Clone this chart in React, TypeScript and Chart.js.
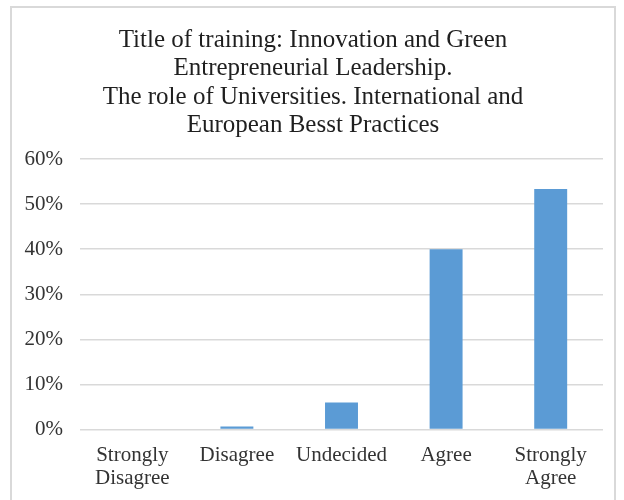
import React, { useEffect, useRef } from "react";
import { Chart, registerables } from "chart.js";

Chart.register(...registerables);

const titleLines = [
  "Title of training: Innovation and Green",
  "Entrepreneurial Leadership.",
  "The role of Universities. International and",
  "European Besst Practices",
];
const categories: string[][] = [
  ["Strongly", "Disagree"],
  ["Disagree"],
  ["Undecided"],
  ["Agree"],
  ["Strongly", "Agree"],
];
const values = [0, 0.67, 6, 40, 53.33];
const yMin = 0;
const yMax = 60;
const yStep = 10;

export default function App() {
  const ref = useRef<HTMLCanvasElement>(null);
  useEffect(() => {
    if (!ref.current) return;
    const chart = new Chart(ref.current, {
      type: "bar",
      data: {
        labels: categories,
        datasets: [
          {
            data: values,
            backgroundColor: "#5B9BD5",
            borderWidth: 0,
            barPercentage: 0.315,
            categoryPercentage: 1,
          },
        ],
      },
      options: {
        animation: false,
        responsive: false,
        devicePixelRatio: 1,
        layout: { padding: { left: 23, right: 21, top: 0, bottom: 0 } },
        plugins: {
          legend: { display: false },
          tooltip: { enabled: false },
          title: {
            display: true,
            text: titleLines,
            color: "#1f1f1f",
            font: { family: "'Liberation Serif', serif", size: 25, weight: "normal", lineHeight: 1.14 },
            padding: { top: 26, bottom: 19 },
          },
        },
        scales: {
          x: {
            grid: { display: false, drawTicks: false },
            border: { display: false },
            ticks: {
              color: "#333333",
              font: { family: "'Liberation Serif', serif", size: 21, lineHeight: 1.08 },
              padding: 15,
              maxRotation: 0,
              autoSkip: false,
            },
            afterFit: (scale: any) => {
              scale.height = 70.5;
            },
          },
          y: {
            min: yMin,
            max: yMax,
            grid: { color: "#d9d9d9", lineWidth: 1.5, drawTicks: false },
            border: { display: false },
            ticks: {
              stepSize: yStep,
              color: "#333333",
              font: { family: "'Liberation Serif', serif", size: 21 },
              padding: 17,
              callback: (v: any) => v + "%",
            },
            afterFit: (scale: any) => {
              scale.width = 57;
            },
          },
        },
      },
    });
    return () => chart.destroy();
  }, []);
  return (
    <div style={{ position: "fixed", left: 0, top: 0, width: 624, height: 500, overflow: "hidden", background: "#fff" }}>
      <div
        style={{
          position: "absolute",
          left: 10,
          top: 6,
          width: 602,
          height: 520,
          border: "2px solid #d9d9d9",
          boxSizing: "content-box",
        }}
      />
      <canvas ref={ref} width={624} height={500} style={{ position: "absolute", left: 0, top: 0 }} />
    </div>
  );
}
